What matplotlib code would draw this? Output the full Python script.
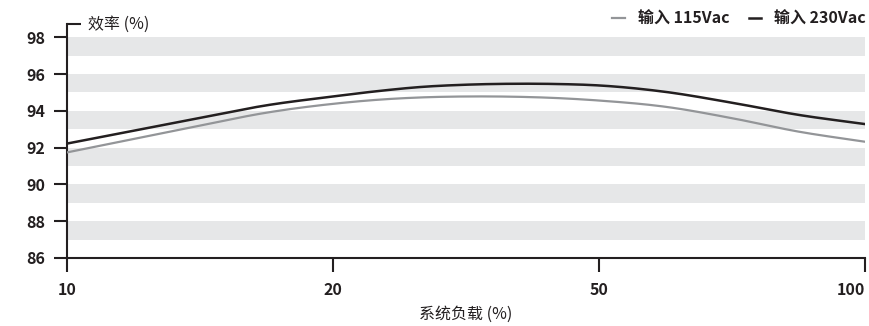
import numpy as np
import matplotlib
matplotlib.use("Agg")
import matplotlib.pyplot as plt

plt.rcParams['font.family'] = ['Noto Sans CJK SC', 'DejaVu Sans']

# data: system load (%) vs efficiency (%)
load = [10, 12.5, 15, 17.5, 20, 25, 30, 35, 40, 45, 50, 62.5, 75, 87.5, 100]
eff_115 = [91.74, 92.47, 93.2, 93.9, 94.38, 94.6, 94.73, 94.78, 94.77, 94.7,
           94.56, 94.22, 93.6, 92.87, 92.32]
eff_230 = [92.22, 92.92, 93.62, 94.3, 94.78, 95.07, 95.3, 95.42, 95.47, 95.46,
           95.38, 95.03, 94.44, 93.78, 93.28]
x_ticks = [10, 20, 50, 100]
y_ticks = [86, 88, 90, 92, 94, 96, 98]
labels = ["输入 115Vac", "输入 230Vac"]

dark = "#231f20"
gray = "#939598"
band = "#e6e7e8"

# the x axis spaces 10/20/50/100 evenly
pos = [0, 1, 2, 3]
def fwd(x):
    return np.interp(x, x_ticks, pos)
def inv(p):
    return np.interp(p, pos, x_ticks)


def smooth(xs, ys, n=20):
    # cubic hermite through the points, in axis position space
    px = fwd(np.array(xs, float))
    py = np.array(ys, float)
    m = np.gradient(py, px)
    outx, outy = [], []
    t = np.linspace(0, 1, n, endpoint=False)
    for i in range(len(px) - 1):
        h = px[i + 1] - px[i]
        h00 = 2 * t**3 - 3 * t**2 + 1
        h10 = t**3 - 2 * t**2 + t
        h01 = -2 * t**3 + 3 * t**2
        h11 = t**3 - t**2
        outx.append(px[i] + t * h)
        outy.append(h00 * py[i] + h10 * h * m[i] + h01 * py[i + 1] + h11 * h * m[i + 1])
    outx.append([px[-1]])
    outy.append([py[-1]])
    return inv(np.concatenate(outx)), np.concatenate(outy)


fig = plt.figure(figsize=(8.69, 3.26), dpi=100)
ax = fig.add_axes([67/869, 1 - 258/326, (865-67)/869, (258-24)/326])
ax.set_xscale('function', functions=(fwd, inv))
ax.set_xlim(10, 100)
ax.set_ylim(86, 98.72)

for lo in range(87, 98, 2):
    ax.axhspan(lo, lo + 1, color=band, lw=0, zorder=0)

ax.plot(*smooth(load, eff_115), color=gray, lw=1.6, label=labels[0], zorder=3)
ax.plot(*smooth(load, eff_230), color=dark, lw=1.8, label=labels[1], zorder=4)

for s in ['top', 'right']:
    ax.spines[s].set_visible(False)
for s in ['left', 'bottom']:
    ax.spines[s].set_linewidth(1.5)
    ax.spines[s].set_color(dark)

ax.set_xticks(x_ticks)
ax.set_xticklabels([str(v) for v in x_ticks])
ax.xaxis.set_minor_locator(matplotlib.ticker.NullLocator())
ax.set_yticks(y_ticks)
ax.tick_params(axis='both', direction='out', width=1.5, color=dark,
               labelsize=11.5, labelcolor=dark)
ax.tick_params(axis='x', length=10, pad=7)
ax.tick_params(axis='y', length=9.5, pad=6)
for t in ax.get_xticklabels() + ax.get_yticklabels():
    t.set_fontweight('bold')
ax.get_xticklabels()[-1].set_horizontalalignment('right')

# short cap at the top of the y axis and its label
ax.plot([0, 14/798], [1, 1], transform=ax.transAxes, color=dark, lw=1.5,
        clip_on=False, solid_capstyle='butt')
ax.text(21/798, 1, "效率 (%)", transform=ax.transAxes, fontsize=11.5,
        color=dark, va='center', ha='left')

ax.set_xlabel("系统负载 (%)", fontsize=11.5, color=dark, labelpad=6)

fig.legend(loc='center right', bbox_to_anchor=(866/869, 1 - 19/326), ncol=2,
           frameon=False, handlelength=0.8, handletextpad=0.8,
           columnspacing=1.2, borderaxespad=0, borderpad=0, labelcolor=dark,
           prop={'size': 11.5, 'weight': 'bold'})

fig.savefig("out.png", dpi=100)
